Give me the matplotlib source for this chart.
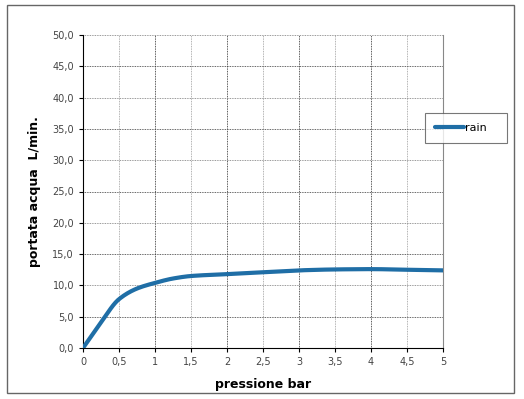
import numpy as np
import matplotlib.pyplot as plt
from matplotlib.patches import Rectangle

# pressure (bar) and flow (L/min)
pressione = [0, 0.25, 0.5, 0.75, 1, 1.25, 1.5, 2, 2.5, 3, 3.5, 4, 4.5, 5]
portata = [0, 4.1, 7.8, 9.5, 10.4, 11.1, 11.5, 11.8, 12.1, 12.4, 12.55, 12.6, 12.5, 12.4]
xticks = [0, 0.5, 1, 1.5, 2, 2.5, 3, 3.5, 4, 4.5, 5]
xlabels = ['0', '0,5', '1', '1,5', '2', '2,5', '3', '3,5', '4', '4,5', '5']
yticks = np.arange(0, 55, 5)

fig = plt.figure(figsize=(5.24, 3.99), dpi=100)
ax = fig.add_axes([83/524, 1 - 348/399, 360/524, 313/399])


def pchip(x, y, xn):
    x = np.asarray(x, float); y = np.asarray(y, float)
    h = np.diff(x); d = np.diff(y) / h
    m = np.zeros_like(y)
    for k in range(1, len(x) - 1):
        if d[k-1] * d[k] > 0:
            w1 = 2*h[k] + h[k-1]; w2 = h[k] + 2*h[k-1]
            m[k] = (w1 + w2) / (w1/d[k-1] + w2/d[k])
    m[0] = d[0]; m[-1] = d[-1]
    out = np.empty_like(xn)
    for i, xv in enumerate(xn):
        k = min(np.searchsorted(x, xv, side='right') - 1, len(x) - 2)
        t = (xv - x[k]) / h[k]
        h00 = 2*t**3 - 3*t**2 + 1; h10 = t**3 - 2*t**2 + t
        h01 = -2*t**3 + 3*t**2; h11 = t**3 - t**2
        out[i] = h00*y[k] + h10*h[k]*m[k] + h01*y[k+1] + h11*h[k]*m[k+1]
    return out


xs = np.linspace(0, 5, 300)
ax.plot(xs, pchip(pressione, portata, xs), color='#1f6ea6', lw=3, label='rain',
        solid_capstyle='round', zorder=3)

ax.set_xlim(0, 5)
ax.set_ylim(0, 50)
ax.set_xticks(xticks)
ax.set_xticklabels(xlabels)
ax.set_yticks(yticks)
ax.yaxis.set_major_formatter(plt.FuncFormatter(lambda v, p: ('%.1f' % v).replace('.', ',')))
ax.tick_params(labelsize=7, labelcolor='#444444', length=3)

for x in xticks[1:-1]:
    c = '#222222' if float(x).is_integer() else '#999999'
    ax.axvline(x, color=c, lw=0.6, ls=(0, (1, 1)), zorder=1)
for y in yticks[1:]:
    c = '#333333' if y % 10 == 5 else '#777777'
    ax.axhline(y, color=c, lw=0.6, ls=(0, (1, 1)), zorder=1)

ax.spines['top'].set_visible(False)
ax.spines['right'].set_color('#888888')
ax.spines['right'].set_linewidth(0.8)

ax.set_xlabel('pressione bar', fontsize=9, fontweight='bold', labelpad=8)
ax.set_ylabel('portata acqua  L/min.', fontsize=9, fontweight='bold', labelpad=8)

leg = ax.legend(loc='center left', bbox_to_anchor=(425/524, 1 - 143/399, 82/524, 30/399),
                bbox_transform=fig.transFigure, mode='expand', borderaxespad=0,
                fontsize=8, frameon=True, fancybox=False, handlelength=2.6,
                handletextpad=0.1, borderpad=0.9)
leg.get_frame().set_edgecolor('#555555')
leg.get_frame().set_linewidth(0.8)

fig.patches.append(Rectangle((7/524, 6/399), 507/524, 388/399, transform=fig.transFigure,
                             fill=False, edgecolor='#666666', lw=1))

fig.savefig('out.png', dpi=100)
